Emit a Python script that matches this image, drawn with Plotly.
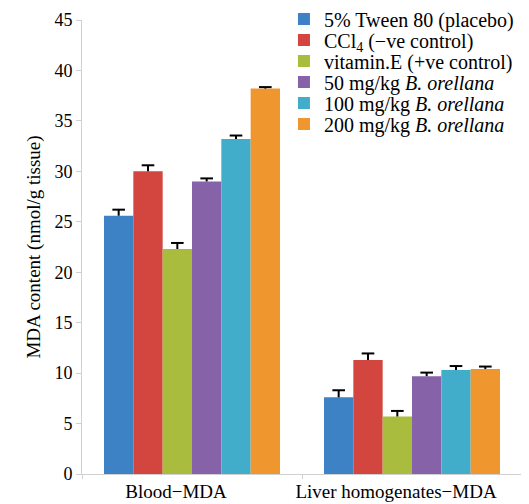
import plotly.graph_objects as go

categories = ["Blood\u2212MDA", "Liver homogenates\u2212MDA"]
series_names = [
    "5% Tween 80 (placebo)",
    "CCl<sub>4</sub> (\u2212ve control)",
    "vitamin.E (+ve control)",
    "50 mg/kg <i>B. orellana</i>",
    "100 mg/kg <i>B. orellana</i>",
    "200 mg/kg <i>B. orellana</i>",
]
tween = [25.6, 7.6]
ccl4 = [30.0, 11.3]
vitE = [22.3, 5.7]
bo50 = [29.0, 9.7]
bo100 = [33.2, 10.3]
bo200 = [38.2, 10.4]
err_tween = [0.6, 0.7]
err_ccl4 = [0.6, 0.65]
err_vitE = [0.6, 0.55]
err_bo50 = [0.3, 0.35]
err_bo100 = [0.35, 0.4]
err_bo200 = [0.15, 0.25]
colors = ["#3e82c6", "#d2463f", "#a9bc3d", "#8662a8", "#41adcb", "#f0962e"]

values = [tween, ccl4, vitE, bo50, bo100, bo200]
errors = [err_tween, err_ccl4, err_vitE, err_bo50, err_bo100, err_bo200]

FONT = '"Liberation Serif", "Times New Roman", serif'

# the page body has an 8px default margin, so the figure is sized to fit the window
FIG_W, FIG_H = 521, 496
M_L, M_R, M_T, M_B = 74, 7, 12, 30

fig = go.Figure()
legend_ids = ["legend", "legend2", "legend3", "legend4", "legend5", "legend6"]
for i, (name, vals, errs, col) in enumerate(zip(series_names, values, errors, colors)):
    fig.add_trace(go.Bar(
        x=categories, y=vals, name=name,
        marker=dict(color=col, line=dict(width=0)),
        legend=legend_ids[i],
    ))
for i, (vals, errs) in enumerate(zip(values, errors)):
    tops = [v + e for v, e in zip(vals, errs)]
    fig.add_trace(go.Scatter(
        x=categories, y=tops, mode="markers", showlegend=False, hoverinfo="skip",
        marker=dict(symbol="line-ew", size=9, color="black", line=dict(width=2, color="black")),
        error_y=dict(type="data", symmetric=False, array=[0] * len(errs), arrayminus=errs,
                     color="black", thickness=2, width=0),
    ))

layout_legends = {}
top_px = 11
step_px = 21
plot_h = FIG_H - M_T - M_B
for i, lid in enumerate(legend_ids):
    ypx = top_px + i * step_px
    layout_legends[lid] = dict(
        x=0.459, y=1 - (ypx - M_T) / plot_h, xanchor="left", yanchor="middle",
        bgcolor="rgba(0,0,0,0)", font=dict(family=FONT, size=20, color="black"),
        itemwidth=30, borderwidth=0,
    )

fig.update_layout(
    width=FIG_W, height=FIG_H,
    margin=dict(l=M_L, r=M_R, t=M_T, b=M_B, autoexpand=False),
    paper_bgcolor="white", plot_bgcolor="white",
    barmode="group", bargap=0.2, bargroupgap=0,
    scattermode="group", scattergap=0.2,
    font=dict(family=FONT, size=18, color="black"),
    showlegend=True,
    **layout_legends,
)
fig.update_xaxes(
    showline=True, linecolor="#d0d0d0", linewidth=1,
    ticks="outside", tickson="boundaries", ticklen=4, tickcolor="#d0d0d0",
    tickfont=dict(family=FONT, size=19), showgrid=False, tickangle=0,
    ticklabelshift=-16, automargin=False,
)
fig.update_yaxes(
    range=[0, 45], dtick=5, showgrid=False, zeroline=False,
    showline=True, linecolor="#d0d0d0", linewidth=1,
    ticks="outside", ticklen=5, tickcolor="#d0d0d0",
    tickfont=dict(family=FONT, size=18), automargin=False,
    title=dict(text="MDA content (nmol/g tissue)", font=dict(family=FONT, size=19), standoff=8),
)

fig.write_html("out.html")
